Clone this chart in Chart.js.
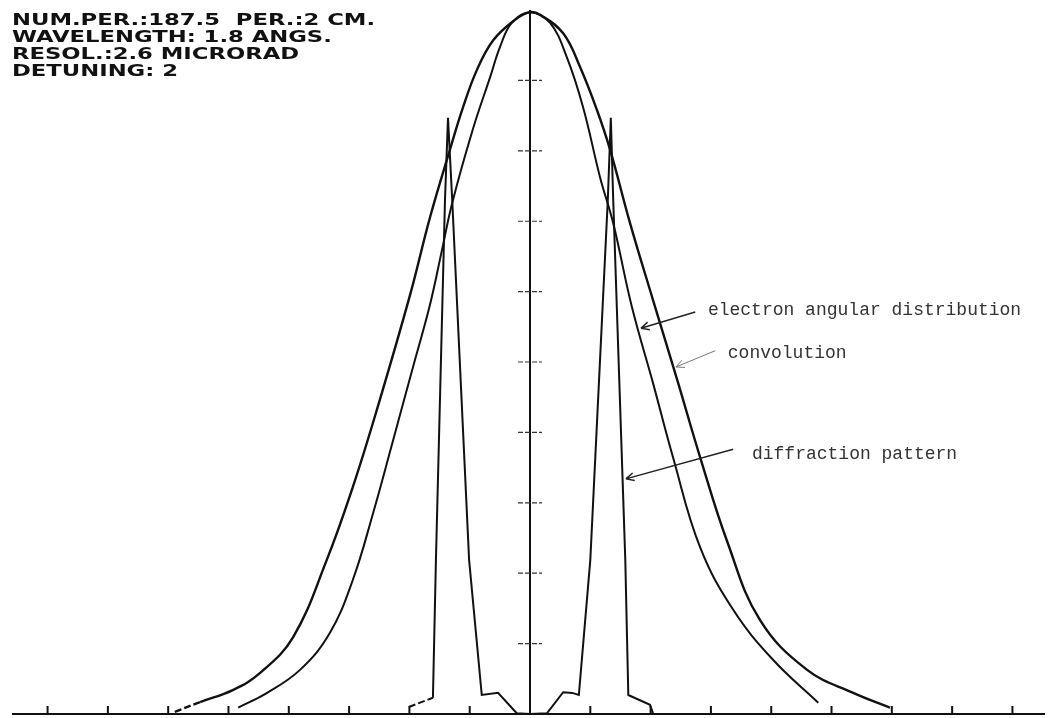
<!DOCTYPE html>
<html>
<head>
<meta charset="utf-8">
<script src="https://cdn.jsdelivr.net/npm/chart.js@4.4.0/dist/chart.umd.min.js"></script>
<style>
  html, body { margin: 0; padding: 0; background: #fff; }
  #wrap { width: 1050px; height: 718px; position: relative; }
</style>
</head>
<body>
<div id="wrap"><canvas id="plot"></canvas></div>
<script>
// convolution (outer, widest curve)
const convX = [-5.89, -5.47, -4.93, -4.48, -3.93, -3.37, -2.94, -2.54, -1.99, -1.66, -1.33, -1.11, -0.88, -0.61, -0.25, 0,
               0.17, 0.55, 0.83, 1.11, 1.33, 1.66, 2.04, 2.44, 2.82, 3.27, 3.81, 4.59, 5.36, 5.97];
const convY = [0.03, 0.17, 0.34, 0.58, 1.09, 2.19, 3.22, 4.32, 5.95, 7.05, 8.01, 8.62, 9.15, 9.57, 9.86, 9.97,
               9.93, 9.67, 9.19, 8.58, 8.01, 6.97, 5.88, 4.75, 3.65, 2.45, 1.34, 0.63, 0.30, 0.09];

// electron angular distribution (inner curve)
const elecX = [-4.84, -4.36, -3.81, -3.32, -2.94, -2.60, -2.27, -1.94, -1.66, -1.46, -1.29, -0.95, -0.66, -0.50, -0.30, 0,
               0.33, 0.61, 0.88, 1.16, 1.38, 1.69, 2.04, 2.37, 2.82, 3.37, 4.03, 4.78];
const elecY = [0.09, 0.30, 0.63, 1.15, 1.90, 2.86, 3.89, 4.93, 5.81, 6.59, 7.26, 8.30, 9.05, 9.47, 9.82, 9.97,
               9.82, 9.33, 8.62, 7.63, 6.97, 5.78, 4.70, 3.65, 2.37, 1.48, 0.77, 0.16];

// diffraction pattern (two narrow spikes)
const diffX = [-2.01, -1.61, -1.56, -1.41, -1.36, -1.29, -1.01, -0.80, -0.53, -0.22, 0, 0.28, 0.55, 0.70, 0.81,
               1.00, 1.29, 1.34, 1.38, 1.58, 1.63, 1.99, 2.04];
const diffY = [0.10, 0.23, 2.19, 7.30, 8.47, 7.30, 2.19, 0.27, 0.30, 0.01, 0, 0.01, 0.31, 0.30, 0.27,
               2.19, 7.30, 8.47, 7.30, 2.19, 0.27, 0.13, 0.01];

// axis ticks
const xTicks = [-8, -7, -6, -5, -4, -3, -2, -1, 1, 2, 3, 4, 5, 6, 7, 8];
const yTicks = [1, 2, 3, 4, 5, 6, 7, 8, 9];

const headerLines = ['NUM.PER.:187.5  PER.:2 CM.', 'WAVELENGTH: 1.8 ANGS.', 'RESOL.:2.6 MICRORAD', 'DETUNING: 2'];

// labels with arrows, positions in data units
const notes = [
    { text: 'electron angular distribution', at: [2.95, 5.74], from: [2.74, 5.71], tip: [1.84, 5.48], color: '#222', w: 1.5 },
    { text: 'convolution', at: [3.28, 5.13], from: [3.07, 5.16], tip: [2.42, 4.93], color: '#777', w: 1 },
    { text: 'diffraction pattern', at: [3.68, 3.69], from: [3.37, 3.76], tip: [1.59, 3.34], color: '#222', w: 1.5 }
];

const toPoints = (xs, ys) => xs.map((x, i) => ({ x: x, y: ys[i] }));

// the plotter pen skips a bit on the first faint segment
const dashFirst = {
    borderDash: c => c.p0DataIndex === 0 ? [7, 3] : undefined
};

// axes, ticks and text drawn against the chart scales
const plotterDecor = {
    id: 'plotterDecor',
    afterDatasetsDraw(chart) {
        const ctx = chart.ctx;
        const xs = chart.scales.x, ys = chart.scales.y;
        const area = chart.chartArea;
        const y0 = ys.getPixelForValue(0);
        const x0 = xs.getPixelForValue(0);
        ctx.save();
        ctx.strokeStyle = '#111';
        ctx.lineCap = 'butt';

        // baseline
        ctx.lineWidth = 2;
        ctx.beginPath();
        ctx.moveTo(area.left, y0);
        ctx.lineTo(area.right, y0);
        ctx.stroke();

        // x ticks pointing up
        xTicks.forEach(t => {
            const px = xs.getPixelForValue(t);
            ctx.beginPath();
            ctx.moveTo(px, y0);
            ctx.lineTo(px, y0 - 8);
            ctx.stroke();
        });

        // central vertical axis
        ctx.beginPath();
        ctx.moveTo(x0, y0);
        ctx.lineTo(x0, ys.getPixelForValue(10));
        ctx.stroke();

        // small cross ticks on it
        ctx.lineWidth = 1.2;
        ctx.strokeStyle = '#333';
        ctx.setLineDash([5, 2]);
        yTicks.forEach(t => {
            const py = ys.getPixelForValue(t);
            ctx.beginPath();
            ctx.moveTo(x0 - 12, py);
            ctx.lineTo(x0 + 12, py);
            ctx.stroke();
        });
        ctx.setLineDash([]);

        // annotations
        ctx.font = '18px "Liberation Mono"';
        ctx.textBaseline = 'middle';
        ctx.textAlign = 'left';
        notes.forEach(n => {
            ctx.fillStyle = '#333';
            ctx.fillText(n.text, xs.getPixelForValue(n.at[0]), ys.getPixelForValue(n.at[1]));
            const fx = xs.getPixelForValue(n.from[0]), fy = ys.getPixelForValue(n.from[1]);
            const tx = xs.getPixelForValue(n.tip[0]), ty = ys.getPixelForValue(n.tip[1]);
            ctx.strokeStyle = n.color;
            ctx.lineWidth = n.w;
            ctx.beginPath();
            ctx.moveTo(fx, fy);
            ctx.lineTo(tx, ty);
            const ang = Math.atan2(fy - ty, fx - tx);
            [0.45, -0.45].forEach(d => {
                ctx.moveTo(tx, ty);
                ctx.lineTo(tx + 9 * Math.cos(ang + d), ty + 9 * Math.sin(ang + d));
            });
            ctx.stroke();
        });

        // header block, stretched like the plotter lettering
        ctx.fillStyle = '#111';
        ctx.font = 'bold 16px "DejaVu Sans"';
        ctx.textBaseline = 'alphabetic';
        const sx = 363 / ctx.measureText(headerLines[0]).width;
        headerLines.forEach((line, i) => {
            ctx.save();
            ctx.translate(12, 25 + i * 17);
            ctx.scale(sx, 1);
            ctx.fillText(line, 0, 0);
            ctx.restore();
        });
        ctx.restore();
    }
};

const lineStyle = {
    borderColor: '#111',
    pointRadius: 0,
    fill: false
};

new Chart(document.getElementById('plot'), {
    type: 'line',
    data: {
        datasets: [
            { ...lineStyle, label: 'convolution', data: toPoints(convX, convY), borderWidth: 2.4, tension: 0.4, segment: dashFirst },
            { ...lineStyle, label: 'electron angular distribution', data: toPoints(elecX, elecY), borderWidth: 2, tension: 0.4 },
            { ...lineStyle, label: 'diffraction pattern', data: toPoints(diffX, diffY), borderWidth: 2, tension: 0, segment: dashFirst }
        ]
    },
    options: {
        responsive: true,
        maintainAspectRatio: false,
        animation: false,
        layout: { padding: { left: 12, right: 5, top: 3, bottom: 4 } },
        scales: {
            x: { type: 'linear', min: -8.59, max: 8.54, display: false },
            y: { type: 'linear', min: 0, max: 10.1, display: false }
        },
        plugins: {
            legend: { display: false },
            tooltip: { enabled: false }
        }
    },
    plugins: [plotterDecor]
});
</script>
</body>
</html>
